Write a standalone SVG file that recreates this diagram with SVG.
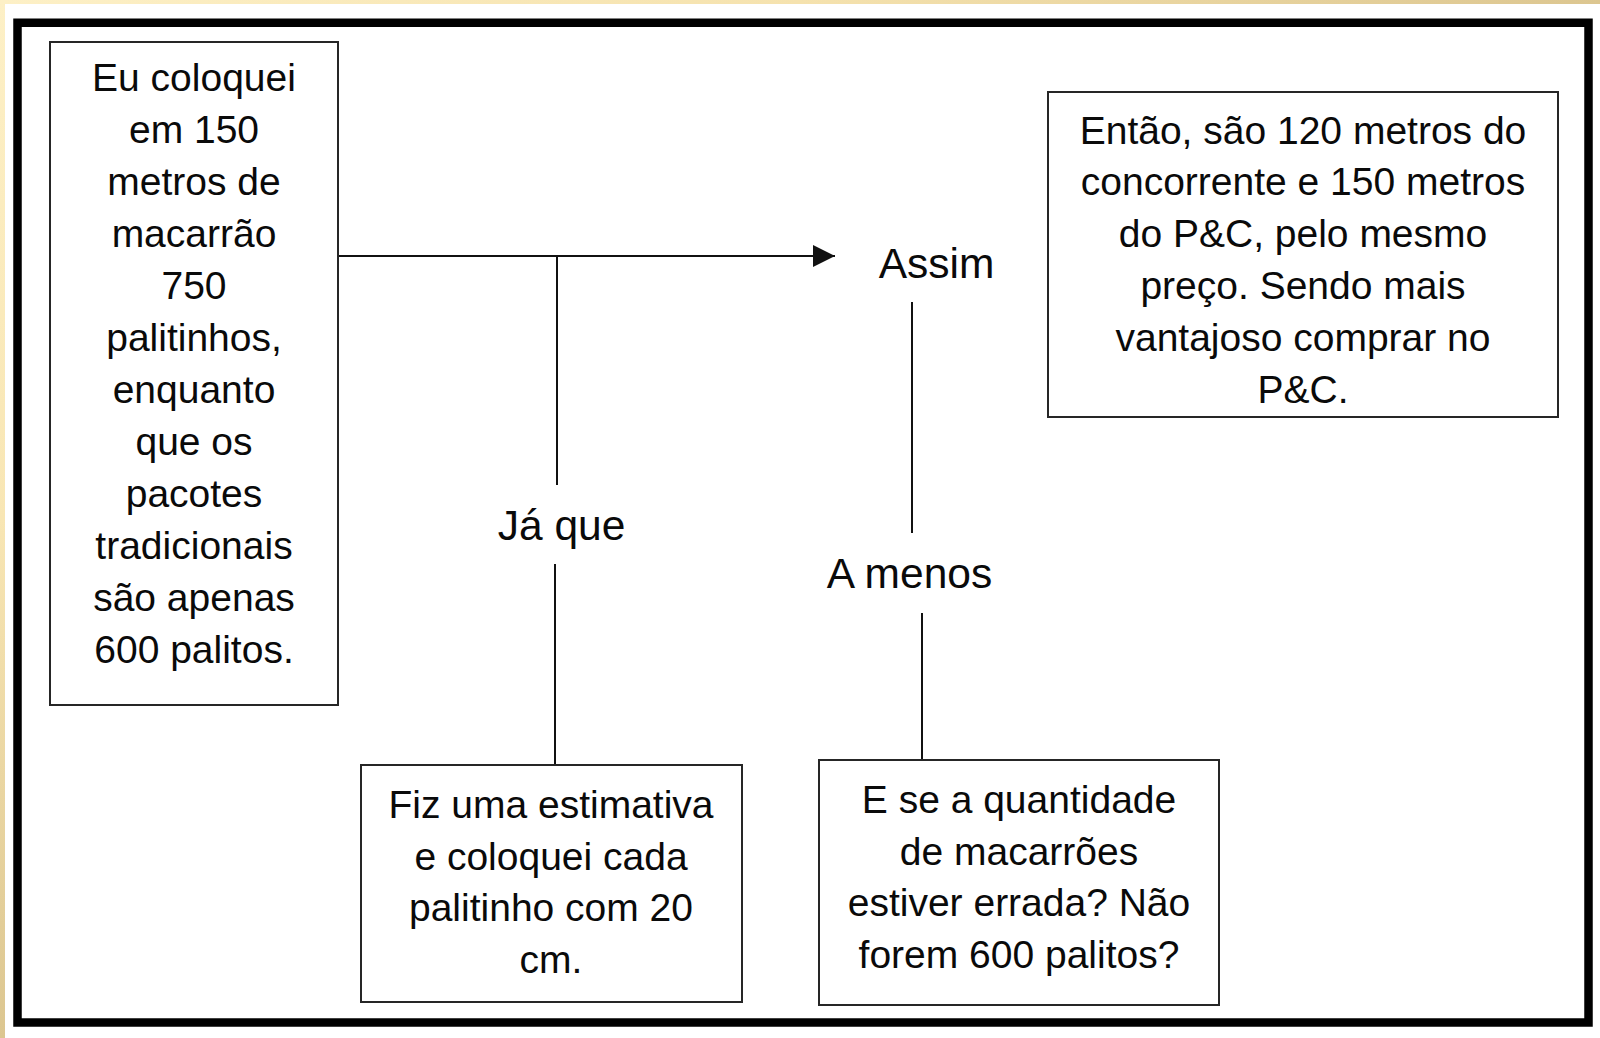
<svg xmlns="http://www.w3.org/2000/svg" width="1600" height="1038" viewBox="0 0 1600 1038">
  <defs>
    <linearGradient id="gTop" x1="0" y1="0" x2="1600" y2="0" gradientUnits="userSpaceOnUse">
      <stop offset="0" stop-color="#fdf0c6"/>
      <stop offset="0.5" stop-color="#f5e2ae"/>
      <stop offset="1" stop-color="#dcc690"/>
    </linearGradient>
    <linearGradient id="gLeft" x1="0" y1="0" x2="0" y2="1038" gradientUnits="userSpaceOnUse">
      <stop offset="0" stop-color="#fdf0c6"/>
      <stop offset="0.5" stop-color="#f8e6b4"/>
      <stop offset="1" stop-color="#dcc690"/>
    </linearGradient>
    <marker id="arrow" markerWidth="22" markerHeight="22" refX="22" refY="11" orient="auto" markerUnits="userSpaceOnUse">
      <path d="M0,0 L22,11 L0,22 Z" fill="#111"/>
    </marker>
    <style>
      .box { fill: #ffffff; stroke: #262626; stroke-width: 2; }
      .txt { font-family: "Liberation Sans", Arial, sans-serif; font-size: 39px; fill: #0a0a0a; text-anchor: middle; }
      .lbl { font-family: "Liberation Sans", Arial, sans-serif; font-size: 42.5px; fill: #0a0a0a; text-anchor: middle; }
      .conn { stroke: #111; stroke-width: 2; fill: none; }
    </style>
  </defs>

  <rect x="0" y="0" width="1600" height="1038" fill="#ffffff"/>
  <rect x="0" y="0" width="1600" height="4" fill="url(#gTop)"/>
  <rect x="0" y="0" width="5" height="1038" fill="url(#gLeft)"/>
  <rect x="17.5" y="22.75" width="1571" height="999.75" fill="none" stroke="#000" stroke-width="8.5"/>

  <g id="connectors">
    <line class="conn" x1="338" y1="256" x2="835" y2="256" stroke-width="2.6" marker-end="url(#arrow)"/>
    <line class="conn" x1="557" y1="256" x2="557" y2="485"/>
    <line class="conn" x1="555" y1="564" x2="555" y2="765"/>
    <line class="conn" x1="912" y1="302" x2="912" y2="533"/>
    <line class="conn" x1="922" y1="613" x2="922" y2="760"/>
  </g>

  <g id="node-left">
    <rect class="box" x="50" y="42" width="288" height="663"/>
    <text class="txt" x="194" y="90.7">Eu coloquei</text>
    <text class="txt" x="194" y="142.7">em 150</text>
    <text class="txt" x="194" y="194.7">metros de</text>
    <text class="txt" x="194" y="246.7">macarrão</text>
    <text class="txt" x="194" y="298.7">750</text>
    <text class="txt" x="194" y="350.7">palitinhos,</text>
    <text class="txt" x="194" y="402.7">enquanto</text>
    <text class="txt" x="194" y="454.7">que os</text>
    <text class="txt" x="194" y="506.7">pacotes</text>
    <text class="txt" x="194" y="558.7">tradicionais</text>
    <text class="txt" x="194" y="610.7">são apenas</text>
    <text class="txt" x="194" y="662.7">600 palitos.</text>
  </g>

  <g id="node-assim">
    <text class="lbl" x="936.5" y="278">Assim</text>
  </g>

  <g id="node-jaque">
    <text class="lbl" x="561.5" y="540">Já que</text>
  </g>

  <g id="node-amenos">
    <text class="lbl" x="909.5" y="588">A menos</text>
  </g>

  <g id="node-entao">
    <rect class="box" x="1048" y="92" width="510" height="325"/>
    <text class="txt" x="1303" y="143.5">Então, são 120 metros do</text>
    <text class="txt" x="1303" y="195.3">concorrente e 150 metros</text>
    <text class="txt" x="1303" y="247.1">do P&amp;C, pelo mesmo</text>
    <text class="txt" x="1303" y="298.9">preço. Sendo mais</text>
    <text class="txt" x="1303" y="350.7">vantajoso comprar no</text>
    <text class="txt" x="1303" y="402.5">P&amp;C.</text>
  </g>

  <g id="node-estimativa">
    <rect class="box" x="361" y="765" width="381" height="237"/>
    <text class="txt" x="551" y="818">Fiz uma estimativa</text>
    <text class="txt" x="551" y="869.5">e coloquei cada</text>
    <text class="txt" x="551" y="921">palitinho com 20</text>
    <text class="txt" x="551" y="972.5">cm.</text>
  </g>

  <g id="node-quantidade">
    <rect class="box" x="819" y="760" width="400" height="245"/>
    <text class="txt" x="1019" y="813">E se a quantidade</text>
    <text class="txt" x="1019" y="864.5">de macarrões</text>
    <text class="txt" x="1019" y="916">estiver errada? Não</text>
    <text class="txt" x="1019" y="968">forem 600 palitos?</text>
  </g>
</svg>
